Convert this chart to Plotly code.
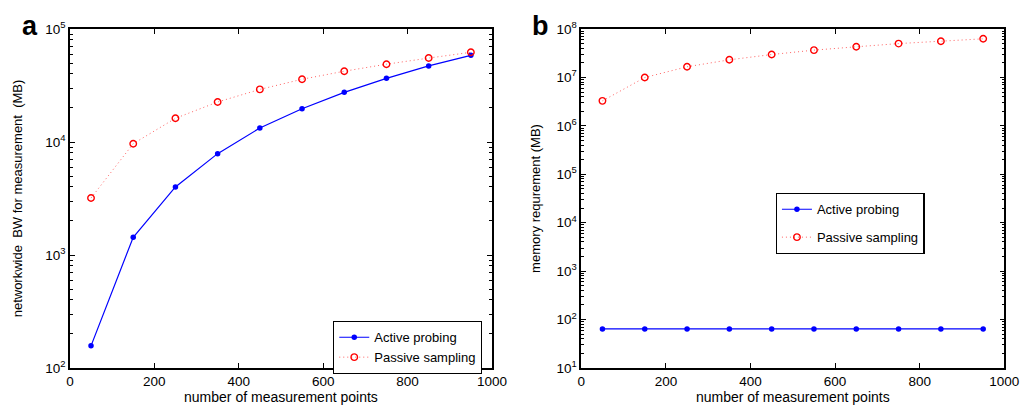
import plotly.graph_objects as go

points = [50, 150, 250, 350, 450, 550, 650, 750, 850, 950]
bw_active = [157, 1436, 4000, 7890, 13300, 19700, 27500, 36600, 47100, 58500]
bw_passive = [3190, 9660, 16200, 22600, 29200, 35900, 42300, 48800, 55300, 62200]
mem_active = [64, 64, 64, 64, 64, 64, 64, 64, 64, 64]
mem_passive = [3.28e6, 9.95e6, 1.66e7, 2.31e7, 2.97e7, 3.66e7, 4.29e7, 5.0e7, 5.6e7, 6.27e7]

x_ticks = [0, 200, 400, 600, 800, 1000]
ya_exp = [2, 3, 4, 5]
yb_exp = [1, 2, 3, 4, 5, 6, 7, 8]

FONT = "Liberation Sans, Arial, Helvetica, sans-serif"
W, H = 1029, 407
PH = 339  # plot height in px

fig = go.Figure()

blue = "#0000ff"
red = "#ff0000"

def add_pair(xa, ya, active, passive, legend):
    fig.add_trace(go.Scatter(x=points, y=active, mode="lines+markers", name="Active probing",
                             xaxis=xa, yaxis=ya, legend=legend, legendgroup=legend + "a",
                             line=dict(color=blue, width=1.2),
                             marker=dict(symbol="circle", size=5.5, color=blue)))
    fig.add_trace(go.Scatter(x=points, y=passive, mode="lines+markers", name="Passive sampling",
                             xaxis=xa, yaxis=ya, legend=legend, legendgroup=legend + "p",
                             line=dict(color="rgba(255,70,70,0.85)", width=1, dash="1px,3px"),
                             marker=dict(symbol="circle-open", size=6.5, color=red,
                                         line=dict(width=1.4, color=red))))

add_pair("x", "y", bw_active, bw_passive, "legend")
add_pair("x2", "y2", mem_active, mem_passive, "legend2")

def minor_vals(exps):
    vals = []
    for e in exps[:-1]:
        for m in range(2, 10):
            vals.append(m * 10 ** e)
    return vals

xcommon = dict(range=[0, 1000], tickvals=x_ticks, ticks="inside", ticklen=5, tickwidth=1,
               tickcolor="black", showline=True, linecolor="black", linewidth=1.5, mirror="ticks",
               showgrid=False, zeroline=False,
               tickfont=dict(family=FONT, size=13.5, color="black"),
               title=dict(text="number of measurement points", font=dict(family=FONT, size=14, color="black"),
                          standoff=3))

def ycommon(exps, title, size, standoff):
    return dict(type="log", range=[exps[0], exps[-1]],
                tickvals=[10 ** e for e in exps],
                ticktext=["10<sup>%d</sup>" % e for e in exps],
                ticks="inside", ticklen=5, tickwidth=1, tickcolor="black",
                minor=dict(tickmode="array", tickvals=minor_vals(exps), ticks="inside",
                           ticklen=3, tickwidth=0.8, tickcolor="black", showgrid=False),
                showline=True, linecolor="black", linewidth=1.5, mirror="ticks",
                showgrid=False, zeroline=False,
                tickfont=dict(family=FONT, size=13.5, color="black"),
                title=dict(text=title, font=dict(family=FONT, size=size, color="black"), standoff=standoff))

legend_common = dict(xanchor="left", yanchor="top", bordercolor="black", borderwidth=1.3,
                     bgcolor="white", font=dict(family=FONT, size=13, color="black"), itemwidth=30)

fig.update_layout(
    width=W, height=H,
    margin=dict(l=0, r=0, t=21, b=47),
    plot_bgcolor="white", paper_bgcolor="white",
    xaxis=dict(domain=[59 / W, 489 / W], anchor="y", **xcommon),
    xaxis2=dict(domain=[580 / W, 1011 / W], anchor="y2", **xcommon),
    yaxis=dict(anchor="x", **ycommon(ya_exp, "networkwide&nbsp; BW for measurement&nbsp; (MB)", 13, 20)),
    yaxis2=dict(anchor="x2", **ycommon(yb_exp, "memory requrement (MB)", 13, 13)),
    legend=dict(x=327 / W, y=(360 - 313) / PH, tracegroupgap=0, **legend_common),
    legend2=dict(x=778 / W, y=(360 - 185) / PH, tracegroupgap=8, entrywidth=170, **legend_common),
    showlegend=True,
    annotations=[
        dict(text="<b>a</b>", x=8 / W, y=1 + 3 / PH, xref="paper", yref="paper",
             xanchor="left", yanchor="middle", showarrow=False,
             font=dict(family=FONT, size=27, color="black")),
        dict(text="<b>b</b>", x=528 / W, y=1 + 3 / PH, xref="paper", yref="paper",
             xanchor="left", yanchor="middle", showarrow=False,
             font=dict(family=FONT, size=27, color="black")),
    ],
)

fig.write_html("out.html")
